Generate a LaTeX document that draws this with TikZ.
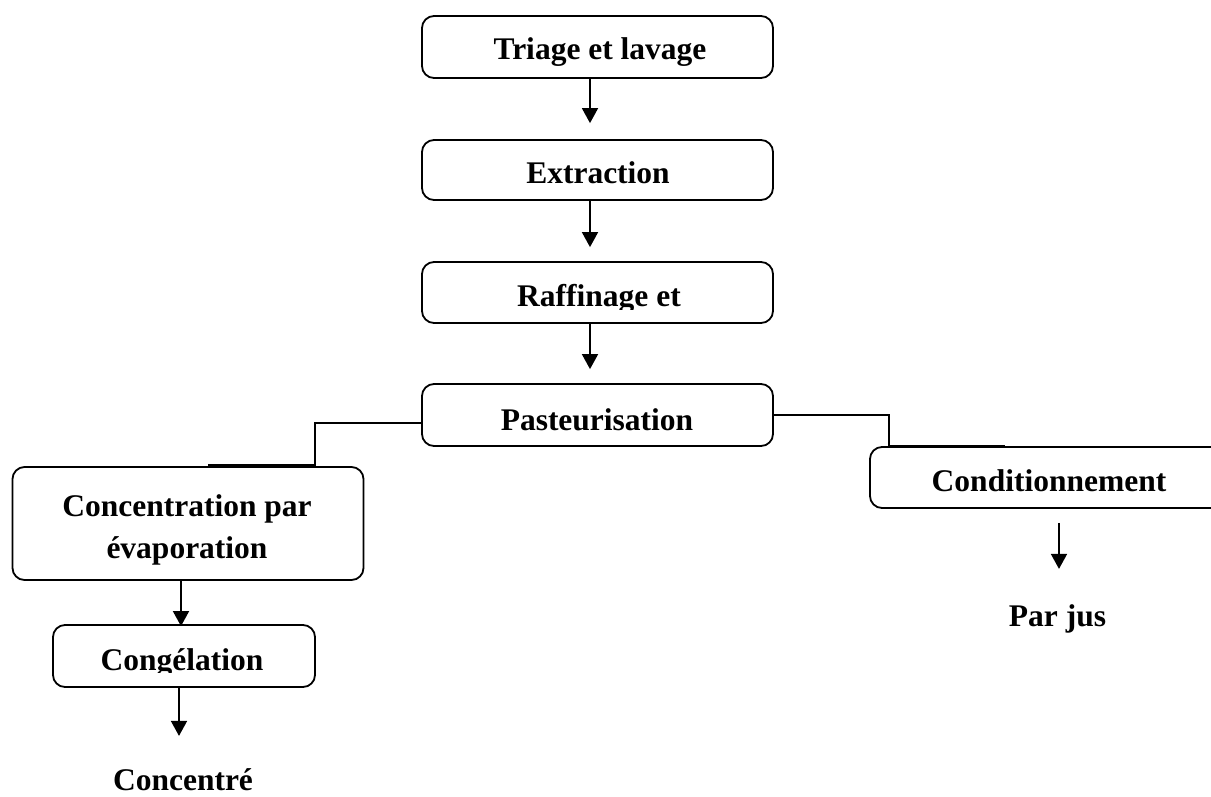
\documentclass[tikz,border=0pt]{standalone}
\usepackage{fontspec}
\setmainfont{Liberation Serif}
\usetikzlibrary{arrows.meta}
\begin{document}
\begin{tikzpicture}[x=1pt,y=-1pt,
  stepbox/.style={draw, line width=1.8pt, rounded corners=12pt, inner sep=0pt, minimum width=351pt, minimum height=62pt},
  lbl/.style={inner sep=0pt, anchor=base, font=\fontsize{31.5}{42}\selectfont\bfseries},
  arr/.style={line width=1.7pt, -{Triangle[length=15pt,width=16pt]}},
  link/.style={line width=1.5pt},
  heavy/.style={line width=3pt}]
\useasboundingbox (0,0) rectangle (1211,796);
\clip (0,0) rectangle (1211,796);

% main column
\node[stepbox] (t) at (597.5,47) {};
\node[lbl] (tl) at (600,59) {Triage et lavage};
\node[stepbox, minimum height=60pt] (e) at (597.5,170) {};
\node[lbl] (el) at (598,183.5) {Extraction};
\node[stepbox, minimum height=61pt] (r) at (597.5,292.5) {};
\begin{scope}
  \clip (424,264) rectangle (771,309);
  \node[lbl] (rl) at (599,306.5) {Raffinage et};
\end{scope}
\node[stepbox] (p) at (597.5,415) {};
\node[lbl] (pl) at (597,430) {Pasteurisation};

% left branch
\node[stepbox, minimum height=113pt] (c) at (188,523.5) {};
\node[lbl] (cl1) at (187,516) {Concentration par};
\node[lbl] (cl2) at (187,558) {évaporation};
\node[stepbox, minimum width=262pt] (g) at (184,656) {};
\begin{scope}
  \clip (55,627) rectangle (313,672);
  \node[lbl] (gl) at (182,670) {Congélation};
\end{scope}
\node[lbl] (ct) at (183,790) {Concentré};

% right branch
\node[stepbox, minimum width=380pt, minimum height=61pt] (k) at (1060,477.5) {};
\node[lbl] (kl) at (1049,491.7) {Conditionnement};
\node[lbl] (pj) at (1057.5,626) {Par jus};

% arrows
\draw[arr, shorten >=16pt] ([xshift=-7.5pt]t.south) -- ([xshift=-7.5pt]e.north);
\draw[arr, shorten >=14pt] ([xshift=-7.5pt]e.south) -- ([xshift=-7.5pt]r.north);
\draw[arr, shorten >=14pt] ([xshift=-7.5pt]r.south) -- ([xshift=-7.5pt]p.north);
\draw[arr, shorten >=-2pt] ([xshift=-7pt]c.south) -- ([xshift=-3pt]g.north);
\draw[arr] ([xshift=-5pt]g.south) -- ++(0,48);
\draw[arr] ([xshift=-1pt,yshift=-14pt]k.south) -- ++(0,46);

% connectors
\draw[link] ([yshift=-8pt]p.west) -| ([xshift=127pt]c.north);
\draw[heavy] ([xshift=20pt,yshift=1pt]c.north) -- ([xshift=127pt,yshift=1pt]c.north);
\draw[link] (p.east) -| ([xshift=-171pt]k.north);
\draw[heavy] ([xshift=-171pt]k.north) -- ([xshift=-55pt]k.north);
\end{tikzpicture}
\end{document}
